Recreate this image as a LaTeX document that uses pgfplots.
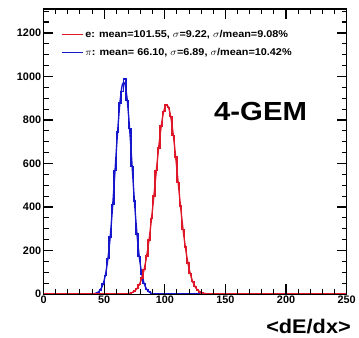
\documentclass[border=0pt]{standalone}
\usepackage{pgfplots}
\pgfplotsset{compat=1.18}
\usepackage{pgfplotstable}
\usepackage{fontspec}
\setmainfont{Liberation Sans}

\definecolor{eRed}{RGB}{222,24,40}
\definecolor{piBlue}{RGB}{22,22,205}

% pion histogram: bin left edge, entries
\pgfplotstableread{
x y
0 0
40 1
42 4
44 9
46 20
48 47
50 86
52 163
54 262
56 412
58 568
60 745
62 878
64 930
66 988
68 888
70 760
72 586
74 427
76 276
78 172
80 92
82 50
84 22
86 11
88 4
90 1
92 0
250 0
}\pionhist

% pion Gaussian fit, sampled at bin centres
\pgfplotstableread{
x y
41 1
43 4
45 9
47 21
49 45
51 88
53 160
55 266
57 408
59 573
61 741
63 881
65 963
67 967
69 892
71 757
73 591
75 423
77 279
79 169
81 94
83 48
85 23
87 10
89 4
91 1
}\pionfit

% electron histogram: bin left edge, entries
\pgfplotstableread{
x y
0 0
68 2
70 4
72 8
74 14
76 26
78 43
80 75
82 113
84 176
86 248
88 347
90 450
92 568
94 672
96 772
98 840
100 872
102 856
104 815
106 728
108 630
110 512
112 405
114 298
116 216
118 143
120 95
122 57
124 35
126 19
128 10
130 5
132 3
134 1
136 0
250 0
}\ehist

% electron Gaussian fit, sampled at bin centres
\pgfplotstableread{
x y
69 2
71 4
73 7
75 14
77 25
79 44
81 73
83 115
85 174
87 250
89 345
91 452
93 566
95 676
97 770
99 837
101 868
103 859
105 811
107 731
109 628
111 514
113 402
115 300
117 214
119 145
121 94
123 58
125 34
127 19
129 10
131 5
133 3
135 1
}\efit

\newcommand{\wide}[1]{\scalebox{1.1}[1]{#1}}

\begin{document}
\begin{tikzpicture}
\begin{axis}[
  at={(0,0)}, anchor=south west,
  scale only axis,
  width=306bp, height=288bp,
  xmin=0, xmax=250, ymin=0, ymax=1310,
  axis on top,
  xtick={0,50,...,250},
  minor xtick={10,20,30,40,60,70,80,90,110,120,130,140,160,170,180,190,210,220,230,240},
  ytick={0,200,...,1200},
  minor ytick={50,100,150,250,300,350,450,500,550,650,700,750,850,900,950,1050,1100,1150,1250,1300},
  tick align=inside, tick pos=both,
  tickwidth=10bp, subtickwidth=5bp,
  axis line style={line width=1.2pt},
  tick style={black, line width=1.3pt},
  minor tick style={black, line width=1.1pt},
  /pgf/number format/assume math mode=true,
  /pgf/number format/1000 sep={},
  ticklabel style={font=\bfseries\fontsize{11}{11}\selectfont},
  xticklabel style={yshift=2bp},
  yticklabel style={xshift=1bp},
  reverse legend,
  legend style={draw=none, fill=none, at={(0.048,0.94)}, anchor=north west,
    font=\bfseries\fontsize{10}{10.5}\selectfont, row sep=5.5bp,
    legend cell align=left},
  legend image code/.code={\draw[#1, line width=1.3pt] (0bp,0bp) -- (21bp,0bp);},
]
% pion: histogram and fit
\addplot[const plot, draw=piBlue, line width=1.4pt] table {\pionhist};
\addlegendentry{\wide{$\pi$: mean= 66.10, $\sigma$=6.89, $\sigma$/mean=10.42\%}}
\addplot[smooth, draw=piBlue, line width=1.4pt, forget plot] table {\pionfit};
% electron: histogram and fit
\addplot[const plot, draw=eRed, line width=1.4pt] table {\ehist};
\addlegendentry{\wide{e: mean=101.55, $\sigma$=9.22, $\sigma$/mean=9.08\%}}
\addplot[smooth, draw=eRed, line width=1.4pt, forget plot] table {\efit};
% frame ticks, ROOT style, pointing into the frame
\pgfplotsinvokeforeach{0,10,...,250}{
  \draw[black, line width=1.1pt] (axis cs:#1,0) -- ++(0,5bp);
  \draw[black, line width=1.1pt] (axis cs:#1,1310) -- ++(0,-5bp);
}
\pgfplotsinvokeforeach{0,50,...,250}{
  \draw[black, line width=1.3pt] (axis cs:#1,0) -- ++(0,10bp);
  \draw[black, line width=1.3pt] (axis cs:#1,1310) -- ++(0,-10bp);
}
\pgfplotsinvokeforeach{0,50,...,1300}{
  \draw[black, line width=1.1pt] (axis cs:0,#1) -- ++(5bp,0);
  \draw[black, line width=1.1pt] (axis cs:250,#1) -- ++(-5bp,0);
}
\pgfplotsinvokeforeach{0,200,...,1200}{
  \draw[black, line width=1.3pt] (axis cs:0,#1) -- ++(10bp,0);
  \draw[black, line width=1.3pt] (axis cs:250,#1) -- ++(-10bp,0);
}
\node[font=\bfseries\fontsize{26.5}{26.5}\selectfont, xscale=1.12, anchor=center] at (axis cs:179,838) {4-GEM};
\end{axis}
\node[font=\bfseries\fontsize{20}{20}\selectfont, xscale=1.1, anchor=base east] at (314bp,-40bp) {<dE/dx>};
\path (-44bp,-42bp) rectangle (315bp,297bp);
\end{tikzpicture}
\end{document}
